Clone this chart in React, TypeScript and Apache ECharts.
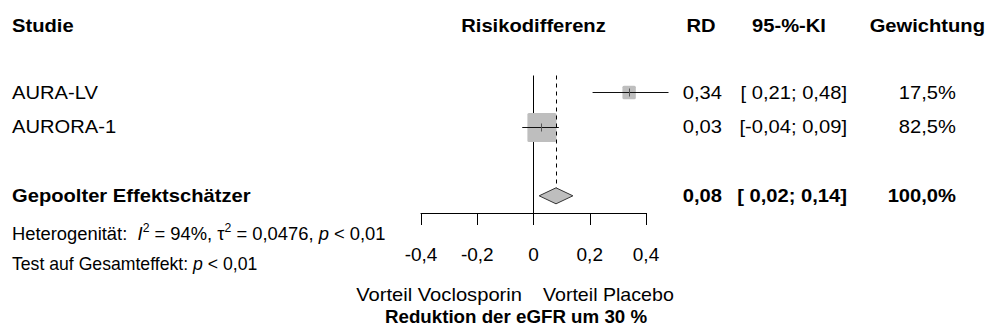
import React, { useEffect, useRef } from "react";
import * as echarts from "echarts";

// ---- data ----
const headers = ["Studie", "Risikodifferenz", "RD", "95-%-KI", "Gewichtung"];
const studyNames = ["AURA-LV", "AURORA-1"];
const studyRd = [0.34, 0.03];
const studyLow = [0.21, -0.04];
const studyHigh = [0.48, 0.09];
const studyWeight = [17.5, 82.5];
const pooledName = "Gepoolter Effektschätzer";
const pooledRd = 0.08;
const pooledLow = 0.02;
const pooledHigh = 0.14;
const pooledWeight = 100.0;
const hetI2 = "94%";
const hetTau2 = "0,0476";
const hetP = "< 0,01";
const overallP = "< 0,01";
const axisMin = -0.4;
const axisMax = 0.4;
const axisStep = 0.2;
const favoursLeft = "Vorteil Voclosporin";
const favoursRight = "Vorteil Placebo";
const xTitle = "Reduktion der eGFR um 30 %";

// ---- style / layout ----
const FONT = '"Liberation Sans", Arial, Helvetica, sans-serif';
const FS = 18;
const SX = 1.12;
const GRAY = "#bebebe";

const fmt2 = (v: number) => v.toFixed(2).replace(".", ",");
const fmtCi = (lo: number, hi: number) =>
  `[${lo < 0 ? "" : " "}${fmt2(lo)}; ${fmt2(hi)}]`;
const fmtW = (w: number) => w.toFixed(1).replace(".", ",") + "%";
const fmtTick = (v: number) =>
  Math.abs(v) < 1e-9 ? "0" : v.toFixed(1).replace(".", ",");

const txt = (
  text: string,
  x: number,
  y: number,
  align: string,
  bold = false,
  sx = SX
) => ({
  type: "text",
  x,
  y,
  scaleX: sx,
  style: {
    text,
    fontFamily: FONT,
    fontSize: FS,
    fontWeight: bold ? "bold" : "normal",
    fill: "#000",
    align,
    verticalAlign: "middle",
  },
});

const COL_NAME = 12;
const COL_RD = 722;
const COL_CI = 847;
const COL_W = 956;

const crisp = (v: number) => Math.round(v - 0.5) + 0.5;

export default function App() {
  const ref = useRef<HTMLDivElement>(null);

  useEffect(() => {
    const chart = echarts.init(ref.current!, null, { renderer: "svg" });

    const studyData = studyNames.map((_, i) => [
      studyRd[i],
      studyLow[i],
      studyHigh[i],
      i + 2,
      studyWeight[i],
    ]);
    const pooledData = [
      [pooledRd, pooledLow, pooledHigh, studyNames.length + 3, pooledWeight],
    ];

    const option: any = {
      animation: false,
      backgroundColor: "#fff",
      grid: { left: 421, right: 344, top: 75.5, height: 137.5 },
      xAxis: {
        type: "value",
        min: axisMin,
        max: axisMax,
        interval: axisStep,
        position: "bottom",
        axisLine: { onZero: false, lineStyle: { color: "#000", width: 1 } },
        axisTick: { show: true, inside: false, length: 12, lineStyle: { color: "#000" } },
        axisLabel: {
          margin: 32,
          color: "#000",
          fontFamily: FONT,
          fontSize: 19,
          formatter: fmtTick,
        },
        splitLine: { show: false },
      },
      yAxis: {
        type: "value",
        inverse: true,
        min: 1.5,
        max: 5.5,
        show: false,
        splitLine: { show: false },
      },
      series: [
        {
          type: "custom",
          name: "zero",
          z: 1,
          data: [[0, 2]],
          encode: { x: 0, y: 1 },
          renderItem: (params: any, api: any) => {
            const cs = params.coordSys;
            const x = crisp(api.coord([api.value(0), api.value(1)])[0]);
            return {
              type: "line",
              shape: { x1: x, y1: cs.y, x2: x, y2: cs.y + cs.height },
              style: { stroke: "#000", lineWidth: 1 },
            };
          },
        },
        {
          type: "custom",
          name: "studies",
          z: 2,
          data: studyData,
          encode: { x: [0, 1, 2], y: 3 },
          renderItem: (params: any, api: any) => {
            const i = params.dataIndex;
            const est = api.value(0);
            const lo = api.value(1);
            const hi = api.value(2);
            const row = api.value(3);
            const w = api.value(4);
            const [xe, yRaw] = api.coord([est, row]);
            const xl = api.coord([lo, row])[0];
            const xh = api.coord([hi, row])[0];
            const y = crisp(yRaw);
            const s = 3.2 * Math.sqrt(w);
            return {
              type: "group",
              children: [
                {
                  type: "rect",
                  shape: { x: xe - s / 2, y: y - s / 2, width: s, height: s, r: 1.5 },
                  style: { fill: GRAY },
                },
                {
                  type: "line",
                  shape: { x1: xl, y1: y, x2: xh, y2: y },
                  style: { stroke: "#111", lineWidth: 1 },
                },
                {
                  type: "line",
                  shape: { x1: crisp(xe), y1: y - 4, x2: crisp(xe), y2: y + 4 },
                  style: { stroke: "#555", lineWidth: 1 },
                },
                txt(studyNames[i], COL_NAME, yRaw, "left"),
                txt(fmt2(est), COL_RD, yRaw, "right"),
                txt(fmtCi(lo, hi), COL_CI, yRaw, "right"),
                txt(fmtW(w), COL_W, yRaw, "right"),
              ],
            };
          },
        },
        {
          type: "custom",
          name: "pooled",
          z: 3,
          data: pooledData,
          encode: { x: [0, 1, 2], y: 3 },
          renderItem: (params: any, api: any) => {
            const cs = params.coordSys;
            const est = api.value(0);
            const lo = api.value(1);
            const hi = api.value(2);
            const row = api.value(3);
            const w = api.value(4);
            const [xe, y] = api.coord([est, row]);
            const xl = api.coord([lo, row])[0];
            const xh = api.coord([hi, row])[0];
            const h = 8;
            return {
              type: "group",
              children: [
                {
                  type: "line",
                  shape: { x1: crisp(xe), y1: cs.y, x2: crisp(xe), y2: y - h },
                  style: { stroke: "#000", lineWidth: 1, lineDash: [4, 4] },
                },
                {
                  type: "polygon",
                  shape: {
                    points: [
                      [xl, y],
                      [xe, y - h],
                      [xh, y],
                      [xe, y + h],
                    ],
                  },
                  style: { fill: GRAY, stroke: "#333", lineWidth: 1 },
                },
                txt(pooledName, COL_NAME, y, "left", true),
                txt(fmt2(est), COL_RD, y, "right", true),
                txt(fmtCi(lo, hi), COL_CI, y, "right", true),
                txt(fmtW(w), COL_W, y, "right", true),
              ],
            };
          },
        },
      ],
      graphic: [
        txt(headers[0], COL_NAME, 26, "left", true),
        txt(headers[1], 533.5, 26, "center", true),
        txt(headers[2], 701, 26, "center", true),
        txt(headers[3], 789, 26, "center", true),
        txt(headers[4], 985, 26, "right", true),
        {
          type: "text",
          x: COL_NAME,
          y: 234,
          scaleX: 1.02,
          style: {
            text: `{n|Heterogenität:  }{i|I}{s|2}{n| = ${hetI2}, τ}{s|2}{n| = ${hetTau2}, }{i|p}{n| ${hetP}}`,
            fill: "#000",
            align: "left",
            verticalAlign: "middle",
            rich: {
              n: { fontFamily: FONT, fontSize: FS, lineHeight: 24, fill: "#000" },
              i: { fontFamily: FONT, fontSize: FS, lineHeight: 24, fontStyle: "italic", fill: "#000" },
              s: { fontFamily: FONT, fontSize: 12, lineHeight: 12, verticalAlign: "top", fill: "#000" },
            },
          },
        },
        {
          type: "text",
          x: COL_NAME,
          y: 264,
          scaleX: 0.98,
          style: {
            text: `{n|Test auf Gesamteffekt: }{i|p}{n| ${overallP}}`,
            fill: "#000",
            align: "left",
            verticalAlign: "middle",
            rich: {
              n: { fontFamily: FONT, fontSize: FS, fill: "#000" },
              i: { fontFamily: FONT, fontSize: FS, fontStyle: "italic", fill: "#000" },
            },
          },
        },
        txt(favoursLeft, 522, 295, "right"),
        txt(favoursRight, 543, 295, "left", false, 1.09),
        txt(xTitle, 516, 317, "center", true, 1.04),
      ],
    };

    chart.setOption(option);
    return () => chart.dispose();
  }, []);

  return (
    <div
      ref={ref}
      style={{
        position: "absolute",
        left: 0,
        top: 0,
        width: 990,
        height: 331,
        background: "#fff",
      }}
    />
  );
}
